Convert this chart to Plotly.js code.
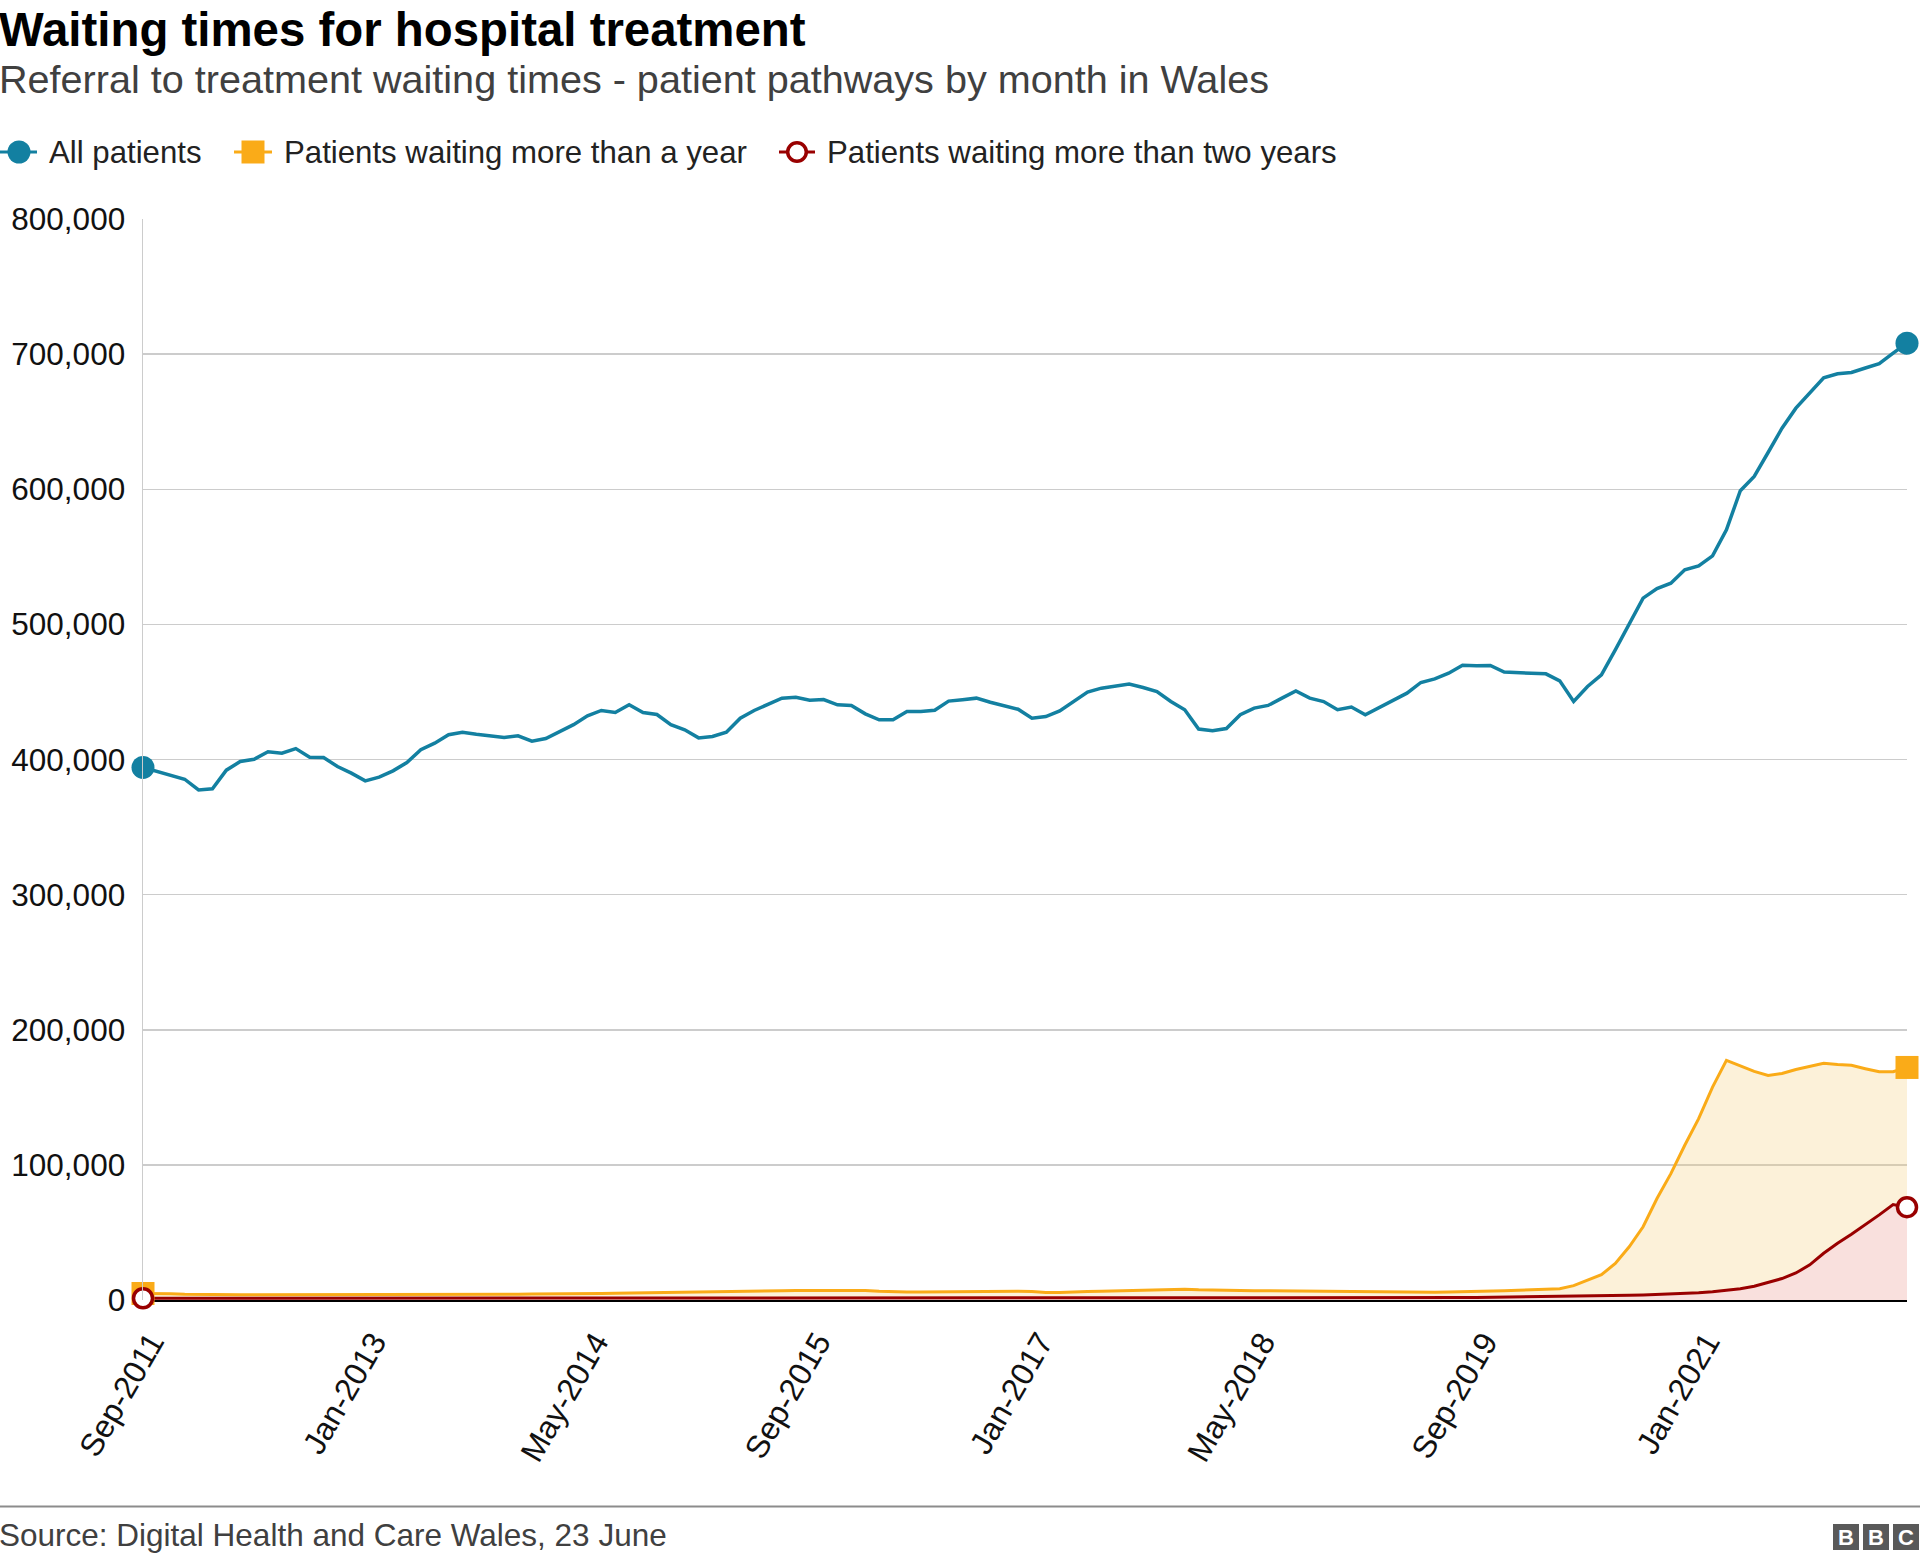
<!DOCTYPE html>
<html>
<head>
<meta charset="utf-8">
<script src="https://cdn.plot.ly/plotly-3.0.1.min.js"></script>
<style>
html,body{margin:0;padding:0;background:#ffffff;}
#chart{width:1920px;height:1561px;}
</style>
</head>
<body>
<div id="chart"></div>
<script>
// ---------- DATA ----------
const monthAbbr = ['Jan','Feb','Mar','Apr','May','Jun','Jul','Aug','Sep','Oct','Nov','Dec'];
const startYear = 2011, startMonthIndex = 8, monthCount = 128; // Sep-2011 .. Apr-2022
const months = [];
for (let i = 0; i < monthCount; i++) {
  const m = (startMonthIndex + i) % 12;
  const y = startYear + Math.floor((startMonthIndex + i) / 12);
  months.push(monthAbbr[m] + '-' + y);
}

const xTickLabels = ['Sep-2011','Jan-2013','May-2014','Sep-2015','Jan-2017','May-2018','Sep-2019','Jan-2021'];
const yTickValues = [0,100000,200000,300000,400000,500000,600000,700000,800000];

const allPatients = [
394100,391400,388700,385400,377500,378300,392100,398500,400200,405700,
404700,408100,401700,401500,394800,389900,384200,386900,391600,397800,
407200,412100,418300,420200,418700,417800,416300,417500,413600,415500,
420500,425800,432300,436300,434800,440500,434800,433300,425700,422000,
416000,417000,420200,430600,436300,440900,445400,446100,443900,444400,
440500,440000,433800,429400,429400,435500,435500,436500,443200,444200,
445400,442400,439700,437200,430600,431800,436000,442900,449900,452800,
454000,455800,453300,450300,442900,436800,422500,421200,422900,433100,
438000,440000,445400,450800,445400,442900,436800,438800,433100,438500,
443400,449100,457000,459700,463900,469800,469300,469600,464700,464200,
463900,463400,458200,442900,454000,462700,481200,500900,519400,526500,
530500,540400,543300,550700,570000,598900,609500,627200,645200,660000,
671600,682500,685400,686400,689700,692900,700700,708100
];

const waitingOverYear = [
4800,4900,4600,4200,4000,
3800,3800,3900,3800,3800,3900,3900,3800,3800,3900,3900,4000,4000,3900,
4000,4100,4100,4200,4200,4100,4200,4300,4300,4400,4400,4500,4600,4700,
4900,5000,5200,5400,5600,5700,5900,6000,6100,6300,6500,6600,
6800,6900,7000,7100,7000,7100,7100,7000,6400,
6000,5900,6000,6100,6200,6300,6200,6300,6400,6400,6200,
5500,5600,
6200,6300,6400,6600,
7100,7200,7300,7500,
8000,
7500,7200,7000,7000,6900,
6800,6700,6600,6600,6600,6500,6400,6300,6200,
5800,5600,5600,5700,
6000,6100,6300,6500,6900,7300,7600,7900,8300,
10600,14800,18700,27000,39400,54200,75100,93500,114500,134200,157600,177300,
173100,169200,166200,167600,170600,172700,175200,174200,173700,171200,168900,168900,172100
];

const waitingOverTwoYears = [
1300,1300,1300,1300,1300,1300,1300,1300,1300,1300,
1300,1300,1300,1300,1300,1300,1300,1300,1300,1300,
1400,1400,1400,1400,1400,1400,1400,1400,1400,1400,
1400,1400,1400,1400,1400,1400,1400,1400,1400,1400,
1400,1400,1400,1400,1400,1400,1400,1400,1400,1400,
1500,1500,1500,1500,1500,1500,1500,1500,1500,1500,
1500,1500,1500,1500,1500,1500,1500,1500,1500,1500,
1500,1500,1500,1500,1500,1500,1500,1500,1500,1500,
1600,1600,1600,1600,1600,1600,1600,1600,1600,1600,
1600,1600,1600,1700,1700,
1800,1900,2000,2100,2200,2300,2400,2700,2900,3000,3200,3300,3500,3700,4000,4300,
4800,5300,6100,7100,8400,10200,13000,15900,20000,26000,34600,42000,48700,55600,
63000,70600,68700
];

const seriesNames = ['All patients','Patients waiting more than a year','Patients waiting more than two years'];

// ---------- STYLE ----------
const FONT = '"Liberation Sans", Arial, Helvetica, sans-serif';
const BLUE = '#1380A1', YELLOW = '#FAAB18', RED = '#990000';

const W = 1920, H = 1561;
const M = {l: 143, r: 13, t: 219, b: 261};
const PW = W - M.l - M.r, PH = H - M.t - M.b;
const fx = px => (px - M.l) / PW;
const fy = py => (H - M.b - py) / PH;

function ends(arr) { return [arr[0], arr[arr.length - 1]]; }
const endX = ends(months);

const traces = [
  {x: months, y: allPatients, type: 'scatter', mode: 'lines', name: seriesNames[0],
   line: {color: BLUE, width: 3.5}, showlegend: false, hoverinfo: 'skip', cliponaxis: false},
  {x: months, y: waitingOverYear, type: 'scatter', mode: 'lines', name: seriesNames[1],
   line: {color: YELLOW, width: 3}, fill: 'tozeroy', fillcolor: 'rgba(245,205,120,0.28)',
   showlegend: false, hoverinfo: 'skip', cliponaxis: false},
  {x: months, y: waitingOverTwoYears, type: 'scatter', mode: 'lines', name: seriesNames[2],
   line: {color: RED, width: 3}, fill: 'tozeroy', fillcolor: 'rgba(249,224,221,1)',
   showlegend: false, hoverinfo: 'skip', cliponaxis: false},
  {x: endX, y: ends(allPatients), type: 'scatter', mode: 'markers',
   marker: {symbol: 'circle', size: 23, color: BLUE, line: {width: 0}},
   showlegend: false, hoverinfo: 'skip', cliponaxis: false},
  {x: endX, y: ends(waitingOverYear), type: 'scatter', mode: 'markers',
   marker: {symbol: 'square', size: 23, color: YELLOW, line: {width: 0}},
   showlegend: false, hoverinfo: 'skip', cliponaxis: false},
  {x: endX, y: ends(waitingOverTwoYears), type: 'scatter', mode: 'markers',
   marker: {symbol: 'circle', size: 19, color: '#ffffff', line: {width: 3.5, color: RED}},
   showlegend: false, hoverinfo: 'skip', cliponaxis: false}
];

// ---------- LEGEND (manual) ----------
const legendY = 152;
const legendItems = [
  {lineX: [0, 37], cx: 19, textX: 47, color: BLUE, kind: 'dot'},
  {lineX: [234, 272], cx: 253, textX: 282, color: YELLOW, kind: 'square'},
  {lineX: [779, 815], cx: 797, textX: 825, color: RED, kind: 'open'}
];
const shapes = [];
const annotations = [];
legendItems.forEach((it, i) => {
  shapes.push({type: 'line', xref: 'paper', yref: 'paper',
    x0: fx(it.lineX[0]), x1: fx(it.lineX[1]), y0: fy(legendY), y1: fy(legendY),
    line: {color: it.color, width: 3}});
  const base = {xref: 'paper', yref: 'paper', xsizemode: 'pixel', ysizemode: 'pixel',
    xanchor: fx(it.cx), yanchor: fy(legendY)};
  if (it.kind === 'dot') {
    shapes.push(Object.assign({type: 'circle', x0: -11.5, x1: 11.5, y0: -11.5, y1: 11.5,
      fillcolor: it.color, line: {width: 0}}, base));
  } else if (it.kind === 'square') {
    shapes.push(Object.assign({type: 'rect', x0: -11.5, x1: 11.5, y0: -11.5, y1: 11.5,
      fillcolor: it.color, line: {width: 0}}, base));
  } else {
    shapes.push(Object.assign({type: 'circle', x0: -9.3, x1: 9.3, y0: -9.3, y1: 9.3,
      fillcolor: '#ffffff', line: {width: 3.5, color: it.color}}, base));
  }
  annotations.push({xref: 'paper', yref: 'paper', x: fx(it.textX), y: fy(legendY),
    xanchor: 'left', yanchor: 'middle', showarrow: false, text: seriesNames[i],
    font: {family: FONT, size: 31.2, color: '#222222'}});
});

// ---------- TITLES / FOOTER ----------
annotations.push({xref: 'paper', yref: 'paper', x: fx(-3), y: fy(29), xanchor: 'left', yanchor: 'middle',
  showarrow: false, text: 'Waiting times for hospital treatment',
  font: {family: FONT, size: 47.4, weight: 700, color: '#000000'}});
annotations.push({xref: 'paper', yref: 'paper', x: fx(-3), y: fy(79), xanchor: 'left', yanchor: 'middle',
  showarrow: false, text: 'Referral to treatment waiting times - patient pathways by month in Wales',
  font: {family: FONT, size: 39.6, color: '#404040'}});
annotations.push({xref: 'paper', yref: 'paper', x: fx(-3), y: fy(1535), xanchor: 'left', yanchor: 'middle',
  showarrow: false, text: 'Source: Digital Health and Care Wales, 23 June',
  font: {family: FONT, size: 31.5, color: '#404040'}});

shapes.push({type: 'line', xref: 'paper', yref: 'paper', x0: fx(0), x1: fx(1920),
  y0: fy(1506.5), y1: fy(1506.5), line: {color: '#8c8c8c', width: 2}});

const bbcBoxes = [[1833, 1859, 'B'], [1863, 1889, 'B'], [1893, 1919, 'C']];
bbcBoxes.forEach(b => {
  shapes.push({type: 'rect', xref: 'paper', yref: 'paper', x0: fx(b[0]), x1: fx(b[1]),
    y0: fy(1550), y1: fy(1524), fillcolor: '#595959', line: {width: 0}});
  annotations.push({xref: 'paper', yref: 'paper', x: fx((b[0] + b[1]) / 2), y: fy(1537.5),
    xanchor: 'center', yanchor: 'middle', showarrow: false, text: b[2],
    font: {family: FONT, size: 22, weight: 700, color: '#ffffff'}});
});

// tick labels sit a little to the right of their month in the original
const xTickPositions = xTickLabels.map(l => months.indexOf(l) + 0.6);

const layout = {
  width: W, height: H,
  margin: M,
  paper_bgcolor: '#ffffff', plot_bgcolor: '#ffffff',
  showlegend: false,
  font: {family: FONT, color: '#222222'},
  xaxis: {
    type: 'category',
    categoryorder: 'array', categoryarray: months,
    range: [0, months.length - 1],
    tickmode: 'array', tickvals: xTickPositions, ticktext: xTickLabels,
    tickangle: -60,
    tickfont: {family: FONT, size: 32, color: '#111111'},
    ticklabelstandoff: 16,
    showgrid: false, zeroline: false, showline: false, ticks: '',
    fixedrange: true
  },
  yaxis: {
    range: [0, 800000],
    tickmode: 'array', tickvals: yTickValues,
    tickformat: ',d',
    tickfont: {family: FONT, size: 31.5, color: '#111111'},
    showgrid: true, gridcolor: '#cccccc', gridwidth: 1.5,
    zeroline: true, zerolinecolor: '#000000', zerolinewidth: 3,
    showline: true, linecolor: '#cccccc', linewidth: 1.5,
    ticks: '', ticklabelstandoff: 10,
    fixedrange: true
  },
  shapes: shapes,
  annotations: annotations
};

Plotly.newPlot('chart', traces, layout, {displayModeBar: false, staticPlot: true});
</script>
</body>
</html>
